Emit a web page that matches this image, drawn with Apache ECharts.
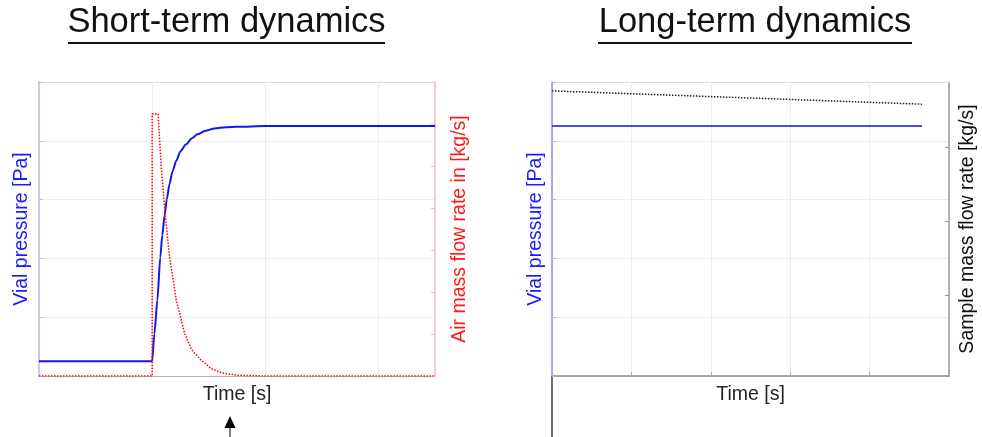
<!DOCTYPE html>
<html>
<head>
<meta charset="utf-8">
<script src="https://cdn.jsdelivr.net/npm/echarts@6/dist/echarts.min.js"></script>
<style>
  html, body { margin: 0; padding: 0; background: #ffffff; }
  #chart { width: 982px; height: 437px; }
</style>
</head>
<body>
<div id="chart"></div>
<script>
// Short-term response: vial pressure and inlet air mass flow after the step
const shortPressureTime = [0, 1.0, 1.02, 1.046, 1.072, 1.09, 1.11, 1.13, 1.154, 1.18, 1.213, 1.25, 1.30, 1.35, 1.40, 1.47, 1.55, 1.65, 1.75, 2.0, 3.5];
const shortPressure     = [0.25, 0.25, 0.72, 1.29, 2.02, 2.40, 2.73, 3.01, 3.27, 3.48, 3.66, 3.82, 3.94, 4.04, 4.11, 4.17, 4.21, 4.23, 4.24, 4.25, 4.25];

const airFlowTime = [0, 1.0, 1.0, 1.053, 1.08, 1.116, 1.154, 1.213, 1.286, 1.35, 1.433, 1.52, 1.62, 1.75, 2.0, 3.5];
const airFlow     = [0, 0, 6.24, 6.24, 4.98, 3.83, 2.84, 1.81, 1.02, 0.62, 0.38, 0.18, 0.07, 0.02, 0, 0];

// Long-term response: vial pressure and sample mass flow
const longTime          = [0, 4.66];
const longPressure      = [4.25, 4.25];
const sampleFlow        = [3.76, 3.58];

// Axis ranges
const shortTimeMax = 3.5;
const longTimeMax = 5;
const pressureMax = 5;
const airFlowMax = 7;
const sampleFlowMin = -0.095;
const sampleFlowMax = 3.88;
const sampleFlowTicks = [1, 2, 3];

const titles = ['Short-term dynamics', 'Long-term dynamics'];
const timeName = 'Time [s]';
const pressureName = 'Vial pressure [Pa]';
const airFlowName = 'Air mass flow rate in [kg/s]';
const sampleFlowName = 'Sample mass flow rate [kg/s]';

const FONT = '"Liberation Sans", Arial, Helvetica, sans-serif';
const pair = (xs, ys) => xs.map((x, i) => [x, ys[i]]);

const chart = echarts.init(document.getElementById('chart'), null, { renderer: 'canvas' });

const hidden = { show: false };
const lavender = '#dcdcf4';
const gridLine = { show: true, lineStyle: { color: '#ececf4', width: 1 } };
const NAME_SIZE = 19.5;

chart.setOption({
  animation: false,
  backgroundColor: '#ffffff',
  textStyle: { fontFamily: FONT },
  title: [
    { text: titles[0], left: 226.5, top: 5, padding: 0, textAlign: 'center',
      textStyle: { fontSize: 34.5, fontWeight: 'normal', color: '#111', fontFamily: FONT } },
    { text: titles[1], left: 755, top: 5, padding: 0, textAlign: 'center',
      textStyle: { fontSize: 34.5, fontWeight: 'normal', color: '#111', fontFamily: FONT } }
  ],
  grid: [
    { left: 39, top: 82, width: 396, height: 294 },
    { left: 552, top: 82, width: 397, height: 294 },
    { left: 552, top: 377, width: 397, height: 300 }
  ],
  xAxis: [
    { // short-term time axis
      type: 'value', gridIndex: 0, min: 0, max: shortTimeMax, interval: 1,
      name: timeName, nameLocation: 'middle', nameGap: 9,
      nameTextStyle: { fontSize: NAME_SIZE, color: '#222', fontFamily: FONT, verticalAlign: 'top' },
      axisLine: { show: true, onZero: false, lineStyle: { color: '#b4b4b4', width: 1 } },
      axisTick: hidden, axisLabel: hidden, splitLine: gridLine
    },
    { // long-term time axis
      type: 'value', gridIndex: 1, min: 0, max: longTimeMax, interval: 1,
      name: timeName, nameLocation: 'middle', nameGap: 9,
      nameTextStyle: { fontSize: NAME_SIZE, color: '#222', fontFamily: FONT, verticalAlign: 'top' },
      axisLine: { show: true, onZero: false, lineStyle: { color: '#8a8a8a', width: 1.5 } },
      axisTick: { show: true, inside: true, length: 4, lineStyle: { color: '#aaa' } },
      axisLabel: hidden, splitLine: gridLine
    },
    { // top frame of the short-term panel
      type: 'value', gridIndex: 0, position: 'top', min: 0, max: 1,
      axisLine: { show: true, onZero: false, lineStyle: { color: lavender, width: 1 } },
      axisTick: hidden, axisLabel: hidden, splitLine: hidden
    },
    { // top frame of the long-term panel
      type: 'value', gridIndex: 1, position: 'top', min: 0, max: 1,
      axisLine: { show: true, onZero: false, lineStyle: { color: lavender, width: 1 } },
      axisTick: hidden, axisLabel: hidden, splitLine: hidden
    },
    { // panel beneath the long-term panel
      type: 'value', gridIndex: 2, min: 0, max: 1, show: false
    }
  ],
  yAxis: [
    { // short-term vial pressure
      type: 'value', gridIndex: 0, position: 'left', min: 0, max: pressureMax, interval: 1,
      name: pressureName, nameLocation: 'middle', nameGap: 7, nameRotate: 90,
      nameTextStyle: { fontSize: NAME_SIZE, color: '#1a1aff', fontFamily: FONT },
      axisLine: { show: true, onZero: false, lineStyle: { color: '#c8c8f2', width: 2 } },
      axisTick: { show: true, inside: true, length: 4, lineStyle: { color: '#c0c0ee' } },
      axisLabel: hidden, splitLine: gridLine
    },
    { // short-term air mass flow
      type: 'value', gridIndex: 0, position: 'right', min: 0, max: airFlowMax, interval: 1,
      name: airFlowName, nameLocation: 'middle', nameGap: 15, nameRotate: 90,
      nameTextStyle: { fontSize: NAME_SIZE, color: '#ff1a1a', fontFamily: FONT },
      axisLine: { show: true, onZero: false, lineStyle: { color: '#f6caca', width: 2 } },
      axisTick: { show: true, inside: true, length: 4, lineStyle: { color: '#f2c0c0' } },
      axisLabel: hidden, splitLine: hidden
    },
    { // long-term vial pressure
      type: 'value', gridIndex: 1, position: 'left', min: 0, max: pressureMax, interval: 1,
      name: pressureName, nameLocation: 'middle', nameGap: 6, nameRotate: 90,
      nameTextStyle: { fontSize: NAME_SIZE, color: '#1a1aff', fontFamily: FONT },
      axisLine: { show: true, onZero: false, lineStyle: { color: '#8c8cf0', width: 1.5 } },
      axisTick: { show: true, inside: true, length: 4, lineStyle: { color: '#b0b0ee' } },
      axisLabel: hidden, splitLine: gridLine
    },
    { // long-term sample mass flow
      type: 'value', gridIndex: 1, position: 'right', min: sampleFlowMin, max: sampleFlowMax,
      name: sampleFlowName, nameLocation: 'middle', nameGap: 9, nameRotate: 90,
      nameTextStyle: { fontSize: NAME_SIZE, color: '#111', fontFamily: FONT },
      axisLine: { show: true, onZero: false, lineStyle: { color: '#9a9a9a', width: 1.5 } },
      axisTick: { show: true, inside: true, length: 4, customValues: sampleFlowTicks, lineStyle: { color: '#999' } },
      axisLabel: { show: false, customValues: sampleFlowTicks }, splitLine: hidden
    },
    { // frame line of the panel beneath
      type: 'value', gridIndex: 2, position: 'left', min: 0, max: 1,
      axisLine: { show: true, onZero: false, lineStyle: { color: '#707070', width: 2 } },
      axisTick: hidden, axisLabel: hidden, splitLine: hidden
    }
  ],
  series: [
    {
      name: 'Vial pressure', type: 'line', xAxisIndex: 0, yAxisIndex: 0,
      data: pair(shortPressureTime, shortPressure), smooth: 0.25, smoothMonotone: 'x', showSymbol: false,
      lineStyle: { color: '#1414f0', width: 2 }, z: 3
    },
    {
      name: 'Air mass flow rate', type: 'line', xAxisIndex: 0, yAxisIndex: 1,
      data: pair(airFlowTime, airFlow), smooth: false, showSymbol: false,
      lineStyle: { color: '#ff0000', width: 1.5, type: [1.5, 1.5] }, z: 4
    },
    {
      name: 'Vial pressure (long)', type: 'line', xAxisIndex: 1, yAxisIndex: 2,
      data: pair(longTime, longPressure), showSymbol: false,
      lineStyle: { color: '#1414d8', width: 1.5 }, z: 3
    },
    {
      name: 'Sample mass flow rate', type: 'line', xAxisIndex: 1, yAxisIndex: 3,
      data: pair(longTime, sampleFlow), showSymbol: false,
      lineStyle: { color: '#222', width: 1.5, type: [1.5, 1.5] }, z: 4
    }
  ],
  graphic: [
    // title underlines
    { type: 'line', shape: { x1: 68, y1: 43, x2: 385, y2: 43 }, style: { stroke: '#111', lineWidth: 2 } },
    { type: 'line', shape: { x1: 598, y1: 43, x2: 912, y2: 43 }, style: { stroke: '#111', lineWidth: 2 } },
    // arrow under the short-term time axis
    { type: 'polygon', shape: { points: [[224.5, 428], [235.5, 428], [230, 416]] }, style: { fill: '#000' } },
    { type: 'line', shape: { x1: 230, y1: 427, x2: 230, y2: 437 }, style: { stroke: '#000', lineWidth: 1 } }
  ]
});
</script>
</body>
</html>
